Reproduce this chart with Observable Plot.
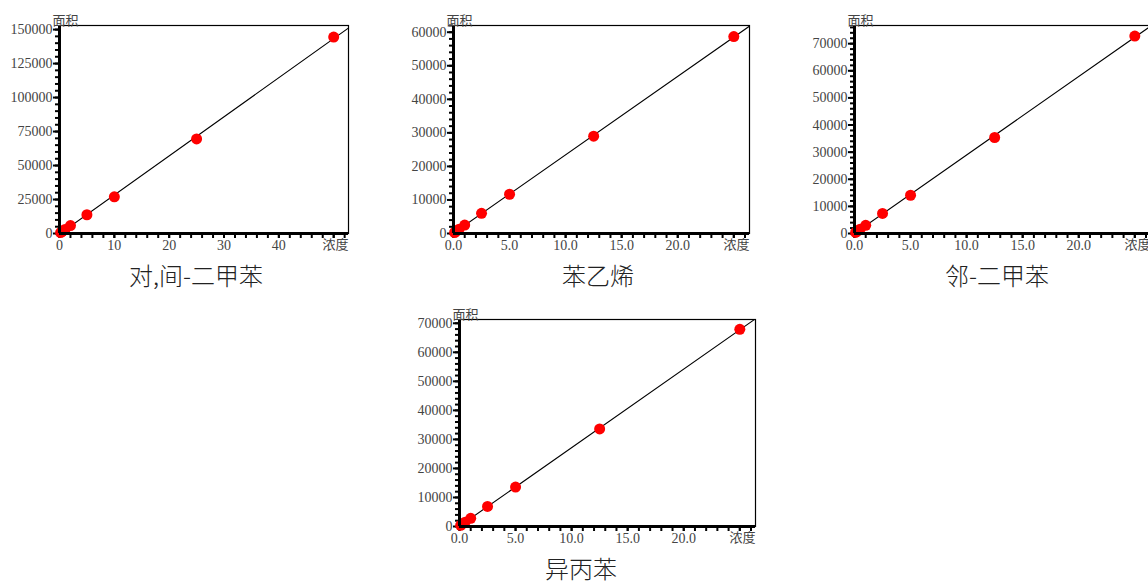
<!DOCTYPE html>
<html><head><meta charset="utf-8">
<script src="https://cdn.jsdelivr.net/npm/d3@7"></script>
<script src="https://cdn.jsdelivr.net/npm/@observablehq/plot@0.6"></script>
<style>
html,body{margin:0;padding:0;background:#fff;}
body{overflow:hidden;width:1148px;height:582px;position:relative;}
.panel{position:absolute;}
.panel svg{background:transparent;overflow:visible;max-width:none !important;}
.title{position:absolute;font-family:"Noto Sans CJK SC","Noto Sans";font-weight:300;font-size:24px;line-height:24px;color:#222;white-space:nowrap;transform:translateX(-50%);}
</style></head><body>
<script>
// ---- data ----
const titles = ["对,间-二甲苯", "苯乙烯", "邻-二甲苯", "异丙苯"];
const yLabel = "面积";
const xLabel = "浓度";

const conc1 = [0.2, 0.5, 1, 2, 5, 10, 25, 50];
const area1 = [700, 1600, 3000, 5800, 13800, 27000, 69600, 144500];

const conc2 = [0.1, 0.25, 0.5, 1, 2.5, 5, 12.5, 25];
const area2 = [300, 700, 1300, 2500, 6000, 11700, 29000, 58700];

const conc3 = [0.1, 0.25, 0.5, 1, 2.5, 5, 12.5, 25];
const area3 = [400, 900, 1600, 3000, 7400, 14100, 35400, 72800];

const conc4 = [0.1, 0.25, 0.5, 1, 2.5, 5, 12.5, 25];
const area4 = [400, 900, 1500, 2800, 6900, 13600, 33600, 67900];

// axis settings
const xMax = [52.7, 26.4, 26.4, 26.4];
const yMax = [153000, 62000, 76700, 71300];
const xMajorStep = [10, 5, 5, 5];
const xMinorStep = [2, 1, 1, 1];
const yMajorStep = [25000, 10000, 10000, 10000];
const yMinorStep = [5000, 2000, 2000, 2000];
const xDecimals = [0, 1, 1, 1];

// layout
const layout = [
  {left: 0,   top: 0,   width: 360, height: 260, ml: 59, mr: 12, mt: 25, mb: 27, tx: 196, ty: 263},
  {left: 400, top: 0,   width: 360, height: 260, ml: 53, mr: 11, mt: 25, mb: 27, tx: 598, ty: 263},
  {left: 800, top: 0,   width: 360, height: 260, ml: 54, mr: 10, mt: 25, mb: 27, tx: 997, ty: 263},
  {left: 400, top: 294, width: 370, height: 260, ml: 59, mr: 15, mt: 25, mb: 28, tx: 581, ty: 556}
];

const concs = [conc1, conc2, conc3, conc4];
const areas = [area1, area2, area3, area4];

const tickFont = "Liberation Serif, DejaVu Serif, serif";

function fit(xs, ys) {
  const mx = d3.mean(xs), my = d3.mean(ys);
  let sxy = 0, sxx = 0;
  xs.forEach((x, i) => { sxy += (x - mx) * (ys[i] - my); sxx += (x - mx) * (x - mx); });
  const m = sxy / sxx;
  return {m, b: my - m * mx};
}

for (let i = 0; i < 4; i++) {
  const L = layout[i];
  const data = concs[i].map((c, j) => ({c, a: areas[i][j]}));
  const {m, b} = fit(concs[i], areas[i]);
  const lineData = [0, xMax[i]].map(c => ({c, a: b + m * c}));
  const xMajor = d3.range(0, xMax[i] + 1e-9, xMajorStep[i]);
  const xMinor = d3.range(0, xMax[i] + 1e-9, xMinorStep[i]);
  const yMajor = d3.range(0, yMax[i] + 1e-9, yMajorStep[i]);
  const yMinor = d3.range(0, yMax[i] + 1e-9, yMinorStep[i]);
  const lastMajor = xMajor[xMajor.length - 1];

  const chart = Plot.plot({
    width: L.width, height: L.height,
    marginLeft: L.ml, marginRight: L.mr, marginTop: L.mt, marginBottom: L.mb,
    style: {fontFamily: tickFont, fontSize: "14px", color: "#444", background: "transparent"},
    x: {domain: [0, xMax[i]]},
    y: {domain: [0, yMax[i]]},
    marks: [
      Plot.axisY({ticks: yMinor, tickSize: 4, strokeWidth: 2, stroke: "#000", text: null, label: null}),
      Plot.axisY({ticks: yMajor, tickSize: 6, strokeWidth: 2, stroke: "#000", tickPadding: 1,
                  tickFormat: d => String(d), fill: "#444", label: null,
                  style: {letterSpacing: "1.3px"}}),
      Plot.axisX({ticks: xMinor, tickSize: 5, strokeWidth: 2, stroke: "#000", text: null, label: null}),
      Plot.axisX({ticks: xMajor, tickSize: 5, strokeWidth: 2, stroke: "#000", tickPadding: 2,
                  tickFormat: d => d === lastMajor && d >= xMax[i] - xMajorStep[i] * 0.9 ? "" : d.toFixed(xDecimals[i]),
                  fill: "#444", label: null, style: {letterSpacing: "1.5px"}}),
      Plot.frame({stroke: "#000", strokeWidth: 1.2}),
      Plot.line(lineData, {x: "c", y: "a", stroke: "#000", strokeWidth: 1.1, clip: true}),
      Plot.dot(data, {x: "c", y: "a", r: 5.5, fill: "#ff0000", stroke: "none"}),
      Plot.ruleX([0], {stroke: "#000", strokeWidth: 3}),
      Plot.ruleY([0], {stroke: "#000", strokeWidth: 3}),
      Plot.text([yLabel], {frameAnchor: "top-left", dx: -7, dy: -1, textAnchor: "start", lineAnchor: "bottom",
                           fontFamily: "Noto Sans CJK SC", fontSize: 13, fill: "#444"}),
      Plot.text([xLabel], {frameAnchor: "bottom-right", dx: 0, dy: 6, textAnchor: "end", lineAnchor: "top",
                           fontFamily: "Noto Sans CJK SC", fontSize: 13, fill: "#444"})
    ]
  });
  const div = document.createElement("div");
  div.className = "panel";
  div.style.left = L.left + "px";
  div.style.top = L.top + "px";
  div.style.width = L.width + "px";
  div.style.height = L.height + "px";
  div.appendChild(chart);
  document.body.appendChild(div);

  const t = document.createElement("div");
  t.className = "title";
  t.textContent = titles[i];
  t.style.left = L.tx + "px";
  t.style.top = L.ty + "px";
  document.body.appendChild(t);
}
</script>
</body></html>
